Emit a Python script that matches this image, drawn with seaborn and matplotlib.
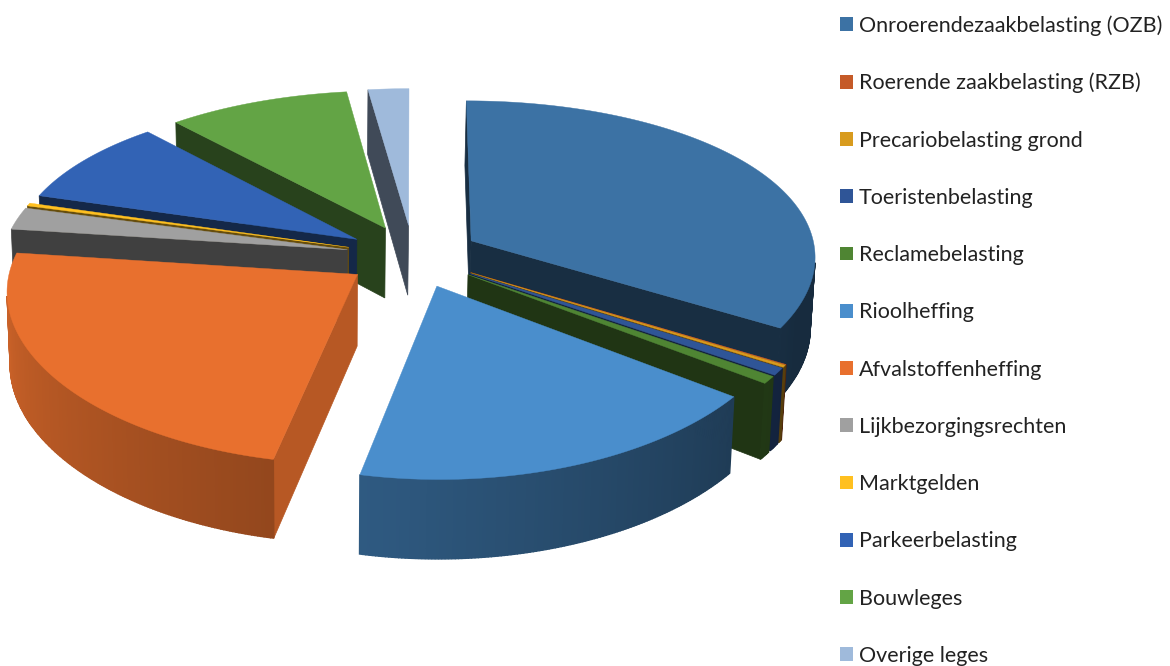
import numpy as np
import matplotlib
matplotlib.use('Agg')
import matplotlib.pyplot as plt
from matplotlib.patches import Patch
import seaborn as sns

# aandeel per heffing in procent
labels = ['Onroerendezaakbelasting (OZB)', 'Roerende zaakbelasting (RZB)',
          'Precariobelasting grond', 'Toeristenbelasting', 'Reclamebelasting',
          'Rioolheffing', 'Afvalstoffenheffing', 'Lijkbezorgingsrechten',
          'Marktgelden', 'Parkeerbelasting', 'Bouwleges', 'Overige leges']
values = [33.7, 0.05, 0.2, 0.7, 0.7, 17.95, 23.8, 2.25, 0.3, 8.8, 9.45, 2.1]
colors = ['#3c72a4', '#c55a28', '#d89b1e', '#2f5597', '#4f8533', '#4a8ecc',
          '#e8702e', '#a0a0a0', '#ffc020', '#3263b5', '#63a445', '#9fbadb']

sns.set_theme(style='white')
plt.rcParams['font.family'] = ['Lato', 'DejaVu Sans']
palette = sns.color_palette(colors)

# vorm van de 3d taart, in pixels
cx, cy = 413, 256
rx, ry = 345, 161
persp_x = 0.09
persp_y = 0.125
height = 71
persp_h = 0.09
explode = 0.195
vanish_x = 320


def proj(theta, r, dx, dy, low):
    x = r * np.sin(theta) + dx
    y = r * np.cos(theta) + dy
    sx = cx + rx * x / (1 + persp_x * y)
    sy = cy - ry * y / (1 + persp_y * y) + low * height / (1 + persp_h * y)
    return (vanish_x + (sx - vanish_x) * (1 - 0.01 * low), sy)


def shade(col, f):
    return tuple(min(c * f, 1) for c in col)


def visible(pts):
    p = np.array(pts)
    q = np.roll(p, -1, axis=0)
    return np.sum(p[:, 0] * q[:, 1] - q[:, 0] * p[:, 1]) < 0


def arc_light(deg):
    # buitenwand wordt lichter naar links
    return max(0.38, 0.42 + (deg - 127) * 0.0033)


fig = plt.figure(figsize=(11.7, 6.66), dpi=100)
ax = fig.add_axes([0, 0, 1, 1])
ax.set_xlim(0, 1170)
ax.set_ylim(666, 0)
ax.axis('off')

ends = np.cumsum(values) / np.sum(values) * 360
starts = np.r_[0, ends[:-1]]
mids = (starts + ends) / 2

# van achter naar voor tekenen
for i in np.argsort(-np.cos(np.radians(mids))):
    col = palette[i]
    a0, a1 = starts[i], ends[i]
    m = np.radians(mids[i])
    dx, dy = explode * np.sin(m), explode * np.cos(m)
    n = max(2, int(2 * (a1 - a0)) + 2)
    degs = np.linspace(a0, a1, n)
    th = np.radians(degs)

    apex_t = proj(0, 0, dx, dy, 0)
    apex_b = proj(0, 0, dx, dy, 1)
    top = [proj(t, 1, dx, dy, 0) for t in th]
    bot = [proj(t, 1, dx, dy, 1) for t in th]

    # zijwanden naar het midden
    wall0 = [apex_t, top[0], bot[0], apex_b]
    wall1 = [top[-1], apex_t, apex_b, bot[-1]]
    for wall, normal in ((wall0, a0 - 90), (wall1, a1 + 90)):
        if visible(wall):
            f = 0.79 if 60 < normal % 360 < 170 else 0.4
            ax.fill(*zip(*wall), color=shade(col, f), lw=0.5)

    # buitenwand in smalle stroken voor het verloop
    for k in range(n - 1):
        strip = [top[k], top[k + 1], bot[k + 1], bot[k]]
        if visible(strip):
            c = shade(col, arc_light((degs[k] + degs[k + 1]) / 2))
            ax.fill(*zip(*strip), color=c, lw=1.0)

    ax.fill(*zip(*([apex_t] + top)), color=col, lw=0.3)

handles = [Patch(facecolor=c, edgecolor='none') for c in palette]
ax.legend(handles, labels, loc='upper left', bbox_to_anchor=(840 / 1170, 1 - 15 / 666),
          frameon=False, fontsize=15.5, labelspacing=1.73, handlelength=0.6,
          handleheight=0.6, handletextpad=0.28, borderpad=0, borderaxespad=0,
          labelcolor='#222222')

fig.savefig('out.png', dpi=100)
